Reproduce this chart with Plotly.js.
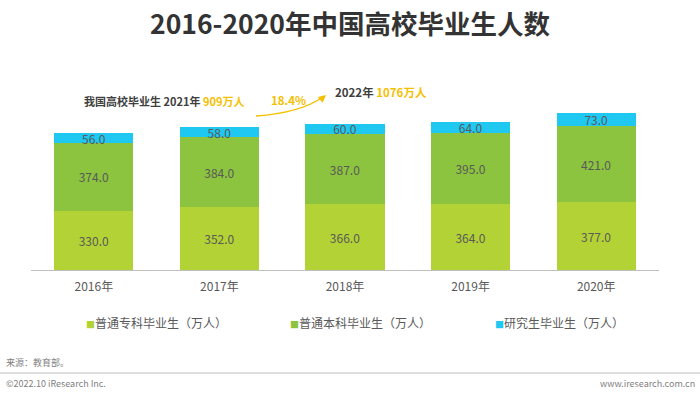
<!DOCTYPE html>
<html><head><meta charset="utf-8">
<script src="https://cdn.plot.ly/plotly-3.0.1.min.js"></script>
<style>html,body{margin:0;padding:0;background:#fff}#c{width:700px;height:397px}</style>
</head><body><div id="c"></div>
<script>
const years = ['2016年','2017年','2018年','2019年','2020年'];
const zhuanke = [330,352,366,364,377];
const benke = [374,384,387,395,421];
const yanjiusheng = [56,58,60,64,73];
const seriesNames = ['普通专科毕业生（万人）','普通本科毕业生（万人）','研究生毕业生（万人）'];
const colors = ['#B3D235','#8CC43F','#1EC8F0'];

const F = '"Noto Sans CJK SC", "Noto Sans", sans-serif';
const vals = [zhuanke, benke, yanjiusheng];
const traces = vals.map((v,i)=>({
  type:'bar', x:years, y:v, name:seriesNames[i],
  marker:{color:colors[i]},
  texttemplate:'%{y:.1f}', textposition:'inside', insidetextanchor:'middle',
  constraintext:'none',
  textfont:{family:F, size:12, color:'#595959'},
  hoverinfo:'none', showlegend:false
}));

// pixel helpers for paper coords
const L=31, R=659, T=80, B=270;
const px = x => (x-L)/(R-L);
const py = y => (B-y)/(B-T);

const legendX = [84, 288, 493];
const legendAnn = seriesNames.map((n,i)=>({
  xref:'paper', yref:'paper', x:px(legendX[i]), y:py(322), xanchor:'left', yanchor:'middle', showarrow:false,
  text:`<span style="color:${colors[i]};font-size:9px">■</span>${n}`,
  font:{family:F, size:12, color:'#595959'}
}));

const layout = {
  width:700, height:397,
  margin:{l:L, r:700-R, t:T, b:397-B},
  barmode:'stack', bargap:0.37,
  paper_bgcolor:'#fff', plot_bgcolor:'#fff',
  font:{family:F, color:'#595959'},
  title:{text:'<b>2016-2020年中国高校毕业生人数</b>', font:{family:F, size:26.5, color:'#333333'}, x:0.5, xanchor:'center', y:1-25/397, yanchor:'middle'},
  xaxis:{showline:true, linecolor:'#bfbfbf', linewidth:1, ticks:'outside', ticklen:6, tickcolor:'rgba(0,0,0,0)', tickfont:{family:F,size:12,color:'#595959'}, fixedrange:true},
  yaxis:{range:[0,1055], visible:false, showgrid:false, zeroline:false},
  showlegend:false,
  annotations:[
    {xref:'paper', yref:'paper', x:px(82), y:py(101), xanchor:'left', yanchor:'middle', showarrow:false,
     text:'<b>我国高校毕业生 2021年 <span style="color:#F5C000">909万人</span></b>', font:{family:F,size:11,color:'#404040'}},
    {xref:'paper', yref:'paper', x:px(269), y:py(100), xanchor:'left', yanchor:'middle', showarrow:false,
     text:'<b>18.4%</b>', font:{family:F,size:11.5,color:'#F5C000'}},
    {xref:'paper', yref:'paper', x:px(333), y:py(92), xanchor:'left', yanchor:'middle', showarrow:false,
     text:'<b>2022年 <span style="color:#F5C000">1076万人</span></b>', font:{family:F,size:11.5,color:'#404040'}},
    {xref:'paper', yref:'paper', x:px(326), y:py(95), ax:-6, ay:5, showarrow:true, arrowhead:2, arrowsize:1, arrowwidth:1.5, arrowcolor:'#F5C000', text:''},
    ...legendAnn,
    {xref:'paper', yref:'paper', x:0, y:py(362), xanchor:'left', yanchor:'middle', xshift:-L+4, showarrow:false,
     text:'来源：教育部。', font:{family:F,size:9,color:'#7f7f7f'}},
    {xref:'paper', yref:'paper', x:0, y:py(383), xanchor:'left', yanchor:'middle', xshift:-L+4, showarrow:false,
     text:'©2022.10 iResearch Inc.', font:{family:F,size:9,color:'#7f7f7f'}},
    {xref:'paper', yref:'paper', x:1, y:py(383), xanchor:'right', yanchor:'middle', xshift:700-R-3, showarrow:false,
     text:'www.iresearch.com.cn', font:{family:F,size:9,color:'#7f7f7f'}}
  ],
  shapes:[
    {type:'path', xref:'paper', yref:'paper',
     path:`M ${px(256)} ${py(116)} Q ${px(300)} ${py(113)} ${px(323)} ${py(97)}`,
     line:{color:'#F5C000', width:1.5}},
    {type:'line', xref:'paper', yref:'paper', x0:px(0), x1:px(700), y0:py(373), y1:py(373), line:{color:'#bfbfbf', width:1}}
  ]
};
Plotly.newPlot('c', traces, layout, {displayModeBar:false, staticPlot:true});
</script></body></html>
